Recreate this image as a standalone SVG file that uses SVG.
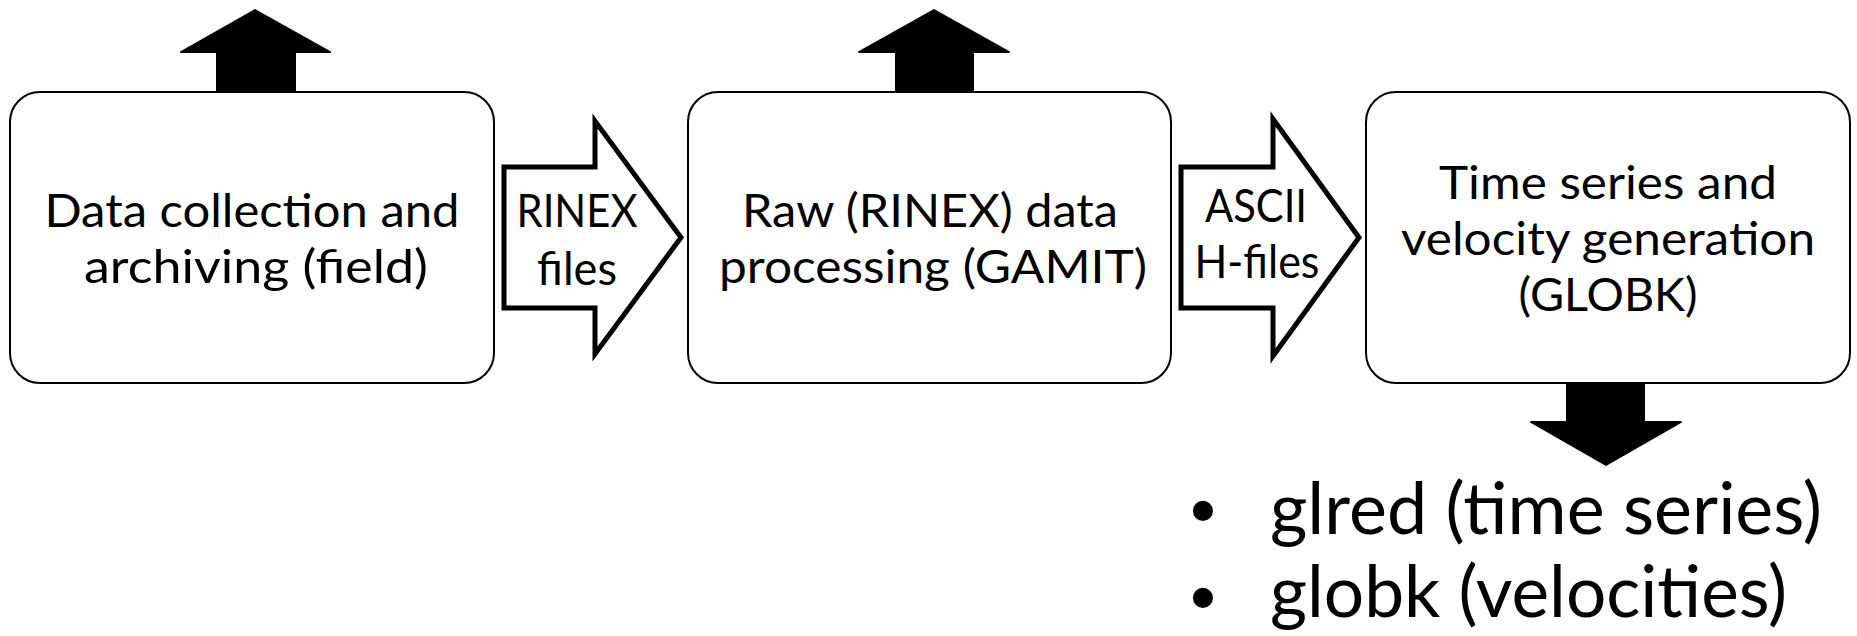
<svg xmlns="http://www.w3.org/2000/svg" width="1857" height="636" viewBox="0 0 1857 636">
<style>
.box{fill:#fff;stroke:#000;stroke-width:2}
.solid{fill:#000;stroke:#000;stroke-width:2;stroke-linejoin:round}
.hollow{fill:#fff;stroke:#000;stroke-width:5;stroke-linejoin:miter}
.t{font-family:Lato,"Liberation Sans",sans-serif;font-size:46px;fill:#000;text-anchor:middle}
.b{font-family:Lato,"Liberation Sans",sans-serif;font-size:71px;fill:#000}
.dot{font-family:"Liberation Sans",sans-serif;font-size:74px;fill:#000;text-anchor:middle}
</style>
<rect width="1857" height="636" fill="#fff"/>
<g id="connectors">
  <polygon class="solid" points="217,92 217,52 181,52 255,10 330,52 295,52 295,92"/>
  <polygon class="solid" points="896,92 896,52 859,52 934,10 1009,52 973,52 973,92"/>
  <polygon class="solid" points="1567,383 1567,422 1531,422 1606,465 1681,422 1644,422 1644,383"/>
  <g id="rinex-arrow">
    <polygon class="hollow" points="504,167 595,167 595,121 681,237.5 595,354 595,308 504,308"/>
    <text class="t" x="577" y="227" textLength="121" lengthAdjust="spacingAndGlyphs">RINEX</text>
    <text class="t" x="577" y="285" textLength="80" lengthAdjust="spacingAndGlyphs">files</text>
  </g>
  <g id="ascii-arrow">
    <polygon class="hollow" points="1181,167 1273,167 1273,119 1359,237.5 1273,356 1273,308 1181,308"/>
    <text class="t" x="1256" y="222" textLength="102" lengthAdjust="spacingAndGlyphs">ASCII</text>
    <text class="t" x="1257" y="278" textLength="125" lengthAdjust="spacingAndGlyphs">H-files</text>
  </g>
</g>
<g id="node-collection">
  <rect class="box" x="10" y="92" width="484" height="291" rx="30" ry="30"/>
  <text class="t" x="252" y="227" textLength="415" lengthAdjust="spacingAndGlyphs">Data collection and</text>
  <text class="t" x="256" y="283" textLength="344" lengthAdjust="spacingAndGlyphs">archiving (field)</text>
</g>
<g id="node-gamit">
  <rect class="box" x="688" y="92" width="483" height="291" rx="30" ry="30"/>
  <text class="t" x="930" y="227" textLength="376" lengthAdjust="spacingAndGlyphs">Raw (RINEX) data</text>
  <text class="t" x="933" y="283" textLength="428" lengthAdjust="spacingAndGlyphs">processing (GAMIT)</text>
</g>
<g id="node-globk">
  <rect class="box" x="1366" y="92" width="484" height="291" rx="30" ry="30"/>
  <text class="t" x="1608" y="199" textLength="338" lengthAdjust="spacingAndGlyphs">Time series and</text>
  <text class="t" x="1608" y="255" textLength="414" lengthAdjust="spacingAndGlyphs">velocity generation</text>
  <text class="t" x="1608" y="311" textLength="179" lengthAdjust="spacingAndGlyphs">(GLOBK)</text>
</g>
<g id="outputs">
  <text class="dot" x="1203" y="536">•</text>
  <text class="b" x="1270" y="534" textLength="552" lengthAdjust="spacingAndGlyphs">glred (time series)</text>
  <text class="dot" x="1203" y="623">•</text>
  <text class="b" x="1270" y="617" textLength="517" lengthAdjust="spacingAndGlyphs">globk (velocities)</text>
</g>
</svg>
